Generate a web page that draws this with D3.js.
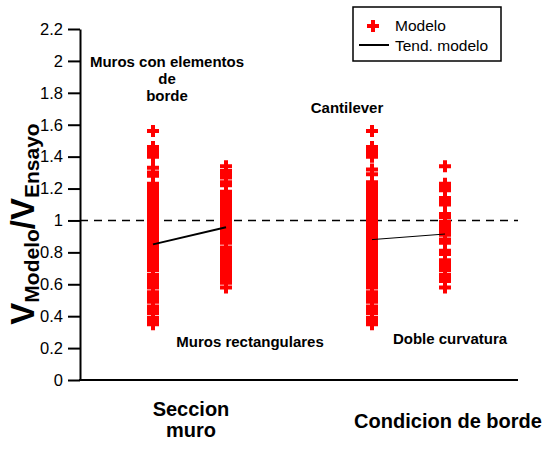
<!DOCTYPE html>
<html>
<head>
<meta charset="utf-8">
<script src="https://cdn.jsdelivr.net/npm/d3@7"></script>
<style>
  body { margin: 0; background: #fff; }
  svg { display: block; }
  text { font-family: Arial, "Liberation Sans", sans-serif; }
</style>
</head>
<body>
<svg id="chart" width="548" height="451"></svg>
<script>
// Ratio V_Modelo / V_Ensayo per wall group
const groupNames = ["Muros con elementos de borde", "Muros rectangulares", "Cantilever", "Doble curvatura"];
const groupPos = [1, 2, 4, 5];

const murosBorde = [1.56, 1.46, 1.44, 1.42, 1.40, 1.33, 1.30, 1.28, 1.23, 1.21, 1.19, 1.17, 1.15, 1.13,
  1.11, 1.09, 1.07, 1.05, 1.03, 1.01, 0.99, 0.97, 0.95, 0.93, 0.91, 0.89, 0.87, 0.85, 0.83, 0.81,
  0.79, 0.77, 0.75, 0.73, 0.71, 0.69, 0.66, 0.64, 0.62, 0.60, 0.58, 0.55, 0.53, 0.51, 0.49, 0.46,
  0.44, 0.42, 0.39, 0.37, 0.35];
const murosRect = [1.34, 1.31, 1.29, 1.27, 1.24, 1.22, 1.18, 1.16, 1.14, 1.12, 1.10, 1.08, 1.06, 1.04,
  1.02, 1.00, 0.98, 0.96, 0.94, 0.92, 0.90, 0.88, 0.86, 0.83, 0.81, 0.79, 0.77, 0.75, 0.73, 0.71,
  0.69, 0.67, 0.65, 0.63, 0.61, 0.58];
const cantilever = [1.56, 1.46, 1.44, 1.42, 1.40, 1.32, 1.29, 1.24, 1.22, 1.20, 1.18, 1.16, 1.14, 1.12,
  1.10, 1.08, 1.06, 1.04, 1.02, 1.00, 0.98, 0.96, 0.94, 0.92, 0.90, 0.88, 0.86, 0.84, 0.82, 0.80,
  0.78, 0.76, 0.74, 0.72, 0.70, 0.68, 0.66, 0.64, 0.62, 0.60, 0.58, 0.55, 0.53, 0.51, 0.49, 0.46,
  0.44, 0.42, 0.39, 0.37, 0.35];
const dobleCurvatura = [1.34, 1.23, 1.21, 1.19, 1.14, 1.12, 1.10, 1.04, 1.02, 0.99, 0.97, 0.95, 0.93,
  0.91, 0.88, 0.86, 0.81, 0.79, 0.75, 0.73, 0.71, 0.69, 0.66, 0.64, 0.62, 0.58];

// Trend lines: mean ratio per group, joined within each comparison
const trendSeccion = [0.85, 0.957];
const trendBorde = [0.88, 0.915];

const yTicks = [0, 0.2, 0.4, 0.6, 0.8, 1, 1.2, 1.4, 1.6, 1.8, 2, 2.2];
const yTickLabels = ["0", "0.2", "0.4", "0.6", "0.8", "1", "1.2", "1.4", "1.6", "1.8", "2", "2.2"];

const svg = d3.select("#chart");
const x = d3.scaleLinear().domain([0, 6]).range([80, 518]);
const y = d3.scaleLinear().domain([0, 2.2]).range([380, 29]);

const series = [murosBorde, murosRect, cantilever, dobleCurvatura];

// Reference line at ratio = 1
svg.append("line")
  .attr("x1", x(0)).attr("x2", x(6))
  .attr("y1", y(1)).attr("y2", y(1))
  .attr("stroke", "#000").attr("stroke-width", 1.6)
  .attr("stroke-dasharray", "8,6");

// Points
const cross = d3.symbol().type(d3.symbolCross).size(80);
series.forEach((vals, i) => {
  svg.append("g").selectAll("path")
    .data(vals)
    .join("path")
    .attr("d", cross)
    .attr("transform", d => `translate(${x(groupPos[i])},${y(d)})`)
    .attr("fill", "#ff0000");
});

// Trend lines
svg.append("line")
  .attr("x1", x(groupPos[0])).attr("y1", y(trendSeccion[0]))
  .attr("x2", x(groupPos[1])).attr("y2", y(trendSeccion[1]))
  .attr("stroke", "#000").attr("stroke-width", 2);
svg.append("line")
  .attr("x1", x(groupPos[2])).attr("y1", y(trendBorde[0]))
  .attr("x2", x(groupPos[3])).attr("y2", y(trendBorde[1]))
  .attr("stroke", "#000").attr("stroke-width", 1);

// Axes
const yAxis = svg.append("g")
  .attr("transform", `translate(${x(0)},0)`)
  .call(d3.axisLeft(y).tickValues(yTicks).tickFormat((d, i) => yTickLabels[i])
    .tickSize(12).tickSizeOuter(0).tickPadding(5));
yAxis.select(".domain").attr("stroke-width", 2);
yAxis.selectAll(".tick line").attr("stroke-width", 2);
yAxis.selectAll("text").attr("font-size", 16.5).attr("fill", "#000")
  .style("font-family", "Arial, 'Liberation Sans', sans-serif");

svg.append("line")
  .attr("x1", x(0) - 1).attr("x2", x(6))
  .attr("y1", y(0)).attr("y2", y(0))
  .attr("stroke", "#000").attr("stroke-width", 2);

// Y axis title
const yt = svg.append("text")
  .attr("transform", `translate(34,224) rotate(-90)`)
  .attr("text-anchor", "middle")
  .attr("font-weight", "bold")
  .attr("font-size", 33);
yt.append("tspan").text("V");
yt.append("tspan").attr("font-size", 21).attr("dy", 5).text("Modelo");
yt.append("tspan").attr("dy", -5).text("/V");
yt.append("tspan").attr("font-size", 21).attr("dy", 5).text("Ensayo");

// Group annotations
const note = (txt, cx, cy, size) => svg.append("text")
  .attr("x", cx).attr("y", cy).attr("text-anchor", "middle")
  .attr("font-weight", "bold").attr("font-size", size).text(txt);
note("Muros con elementos", 167, 67, 15);
note("de", 167, 84, 15);
note("borde", 167, 101, 15);
note("Cantilever", 347, 113, 15);
note("Muros rectangulares", 250, 347, 15);
note("Doble curvatura", 450, 344, 15);
note("Seccion", 191, 416, 20);
note("muro", 191, 437, 20);
note("Condicion de borde", 448, 428, 20);

// Legend
const lg = svg.append("g");
lg.append("rect").attr("x", 353).attr("y", 7).attr("width", 148).attr("height", 54)
  .attr("fill", "#fff").attr("stroke", "#000").attr("stroke-width", 1.5);
lg.append("path").attr("d", cross).attr("transform", "translate(373,26)").attr("fill", "#ff0000");
lg.append("line").attr("x1", 359).attr("x2", 389).attr("y1", 45).attr("y2", 45)
  .attr("stroke", "#000").attr("stroke-width", 2);
lg.append("text").attr("x", 395).attr("y", 31).attr("font-size", 15.5).text("Modelo");
lg.append("text").attr("x", 395).attr("y", 51).attr("font-size", 15.5).text("Tend. modelo");
</script>
</body>
</html>
